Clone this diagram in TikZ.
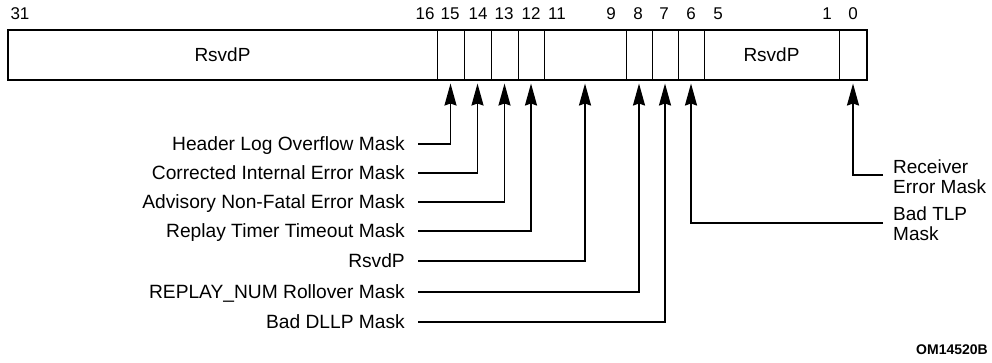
\documentclass[tikz,border=0pt]{standalone}
\usepackage{fontspec}
\setmainfont{Liberation Sans}
\usetikzlibrary{arrows.meta}
\begin{document}
\begin{tikzpicture}[x=1pt,y=-1pt,
  field/.style={draw, line width=1pt, inner sep=0pt, minimum height=50pt, font=\fontsize{19}{22}\selectfont},
  bitnum/.style={inner sep=0pt, font=\fontsize{17}{20}\selectfont},
  lbl/.style={inner sep=0pt, anchor=east, text height=17.6pt, text depth=4pt, font=\fontsize{19.2}{22}\selectfont},
  rlbl/.style={inner sep=0pt, anchor=west, align=left, font=\fontsize{19}{20}\selectfont},
  conn/.style={line width=1.8pt, shorten >=3pt, -{Stealth[length=22pt,width=12pt,inset=2pt]}}
]
\useasboundingbox (0,0) rectangle (992,362);
% fields
\node[field, minimum width=429pt] (f31) at (222.5,55) {RsvdP};
\node[field, minimum width=27pt] (f15) at (450.5,55) {};
\node[field, minimum width=27pt] (f14) at (477.5,55) {};
\node[field, minimum width=27pt] (f13) at (504.5,55) {};
\node[field, minimum width=26pt] (f12) at (531,55) {};
\node[field, minimum width=82pt] (f11) at (585,55) {};
\node[field, minimum width=26pt] (f8) at (639,55) {};
\node[field, minimum width=26pt] (f7) at (665,55) {};
\node[field, minimum width=26pt] (f6) at (691,55) {};
\node[field, minimum width=135pt] (f5) at (771.5,55) {RsvdP};
\node[field, minimum width=28pt] (f0) at (853,55) {};
\node[draw, line width=2pt, inner sep=0pt, minimum width=859pt, minimum height=50pt] (reg) at (437.5,55) {};
% bit numbers
\node[bitnum] (b31) at (20,14) {31};
\node[bitnum] (b16) at (425,14) {16};
\node[bitnum] (b15) at (450,14) {15};
\node[bitnum] (b14) at (478,14) {14};
\node[bitnum] (b13) at (504,14) {13};
\node[bitnum] (b12) at (531,14) {12};
\node[bitnum] (b11) at (557,14) {11};
\node[bitnum] (b9) at (611,14) {9};
\node[bitnum] (b8) at (638,14) {8};
\node[bitnum] (b7) at (664,14) {7};
\node[bitnum] (b6) at (691,14) {6};
\node[bitnum] (b5) at (718,14) {5};
\node[bitnum] (b1) at (827,14) {1};
\node[bitnum] (b0) at (853,14) {0};
% left labels
\node[lbl] (l15) at (405,144) {Header Log Overflow Mask};
\node[lbl] (l14) at (405,173) {Corrected Internal Error Mask};
\node[lbl] (l13) at (405,202) {Advisory Non-Fatal Error Mask};
\node[lbl] (l12) at (405,231) {Replay Timer Timeout Mask};
\node[lbl] (l11) at (405,261) {RsvdP};
\node[lbl] (l8) at (405,292) {REPLAY\_NUM Rollover Mask};
\node[lbl] (l7) at (405,322) {Bad DLLP Mask};
% right labels
\node[rlbl] (r0) at (893,177) {Receiver\\Error Mask};
\node[rlbl] (r6) at (893,224) {Bad TLP\\Mask};
% connectors
\draw[conn] ([xshift=13pt]l15.east) -| (f15.south);
\draw[conn] ([xshift=13pt]l14.east) -| (f14.south);
\draw[conn] ([xshift=13pt]l13.east) -| (f13.south);
\draw[conn] ([xshift=13pt]l12.east) -| (f12.south);
\draw[conn] ([xshift=13pt]l11.east) -| (f11.south);
\draw[conn] ([xshift=13pt]l8.east) -| (f8.south);
\draw[conn] ([xshift=13pt]l7.east) -| (f7.south);
\draw[conn] ([xshift=-10pt,yshift=2pt]r0.west) -| (f0.south);
\draw[conn] ([xshift=-10pt,yshift=1pt]r6.west) -| (f6.south);
% figure id
\node[inner sep=0pt, font=\fontsize{14}{16}\selectfont\bfseries] (id) at (952,350) {OM14520B};
\end{tikzpicture}
\end{document}
